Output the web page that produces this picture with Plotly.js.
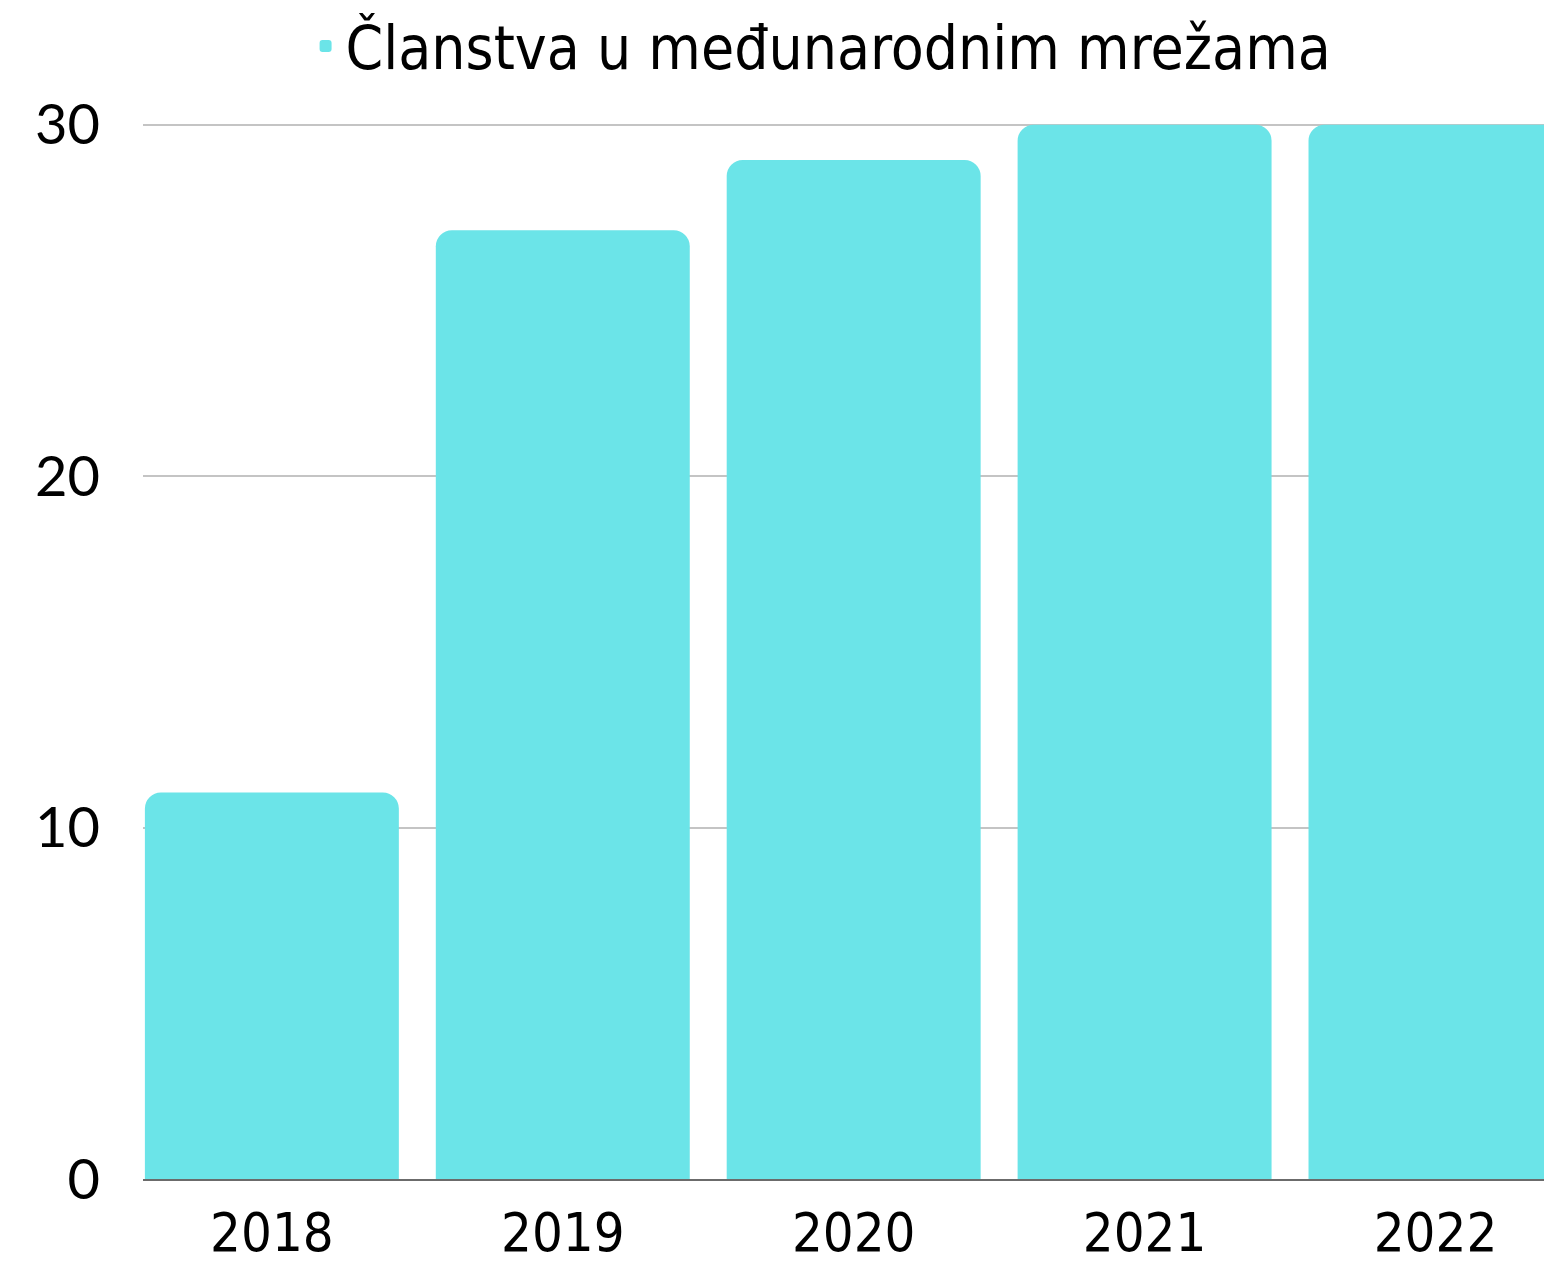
<!DOCTYPE html>
<html>
<head>
<meta charset="utf-8">
<script src="https://cdn.plot.ly/plotly-3.0.1.min.js"></script>
<style>html,body{margin:0;padding:0;background:#fff;}#chart{width:1544px;height:1264px;}</style>
</head>
<body>
<div id="chart"></div>
<script>
const years = ['2018', '2019', '2020', '2021', '2022'];
const memberships = [11, 27, 29, 30, 30];
const seriesName = 'Članstva u međunarodnim mrežama';
const yTicks = [0, 10, 20, 30];

const trace = {
  type: 'bar',
  x: years,
  y: memberships,
  name: seriesName,
  showlegend: true,
  marker: {color: '#6BE4E8', cornerradius: 16},
  hoverinfo: 'x+y'
};

const layout = {
  width: 1544,
  height: 1264,
  margin: {l: 143, r: 0, t: 122, b: 85},
  paper_bgcolor: '#ffffff',
  plot_bgcolor: '#ffffff',
  bargap: 0.127,
  font: {family: 'Lato, "Noto Sans", sans-serif', color: '#000000', size: 50},
  showlegend: true,
  legend: {
    orientation: 'h',
    x: 0.484, xanchor: 'center',
    y: 1.072, yanchor: 'middle',
    font: {family: '"Liberation Sans Narrow", "DejaVu Sans Condensed", sans-serif', size: 60, color: '#000'},
    itemwidth: 30
  },
  xaxis: {
    type: 'category',
    range: [-0.443, 4.373],
    showgrid: false,
    showline: true,
    linecolor: '#6b6b6b',
    linewidth: 2,
    ticks: '',
    ticklabelstandoff: 5,
    tickfont: {family: '"Liberation Sans Narrow", "DejaVu Sans Condensed", sans-serif', size: 54, color: '#000'},
    fixedrange: true
  },
  yaxis: {
    range: [0, 30.08],
    tickvals: yTicks,
    ticktext: yTicks.map(String),
    showgrid: true,
    gridcolor: '#c4c4c4',
    gridwidth: 2,
    zeroline: false,
    showline: false,
    ticks: '',
    ticklabelstandoff: 42,
    tickfont: {family: 'Lato, "Noto Sans", sans-serif', size: 56, color: '#000'},
    fixedrange: true
  }
};

Plotly.newPlot('chart', [trace], layout, {displayModeBar: false, staticPlot: true});
</script>
</body>
</html>
